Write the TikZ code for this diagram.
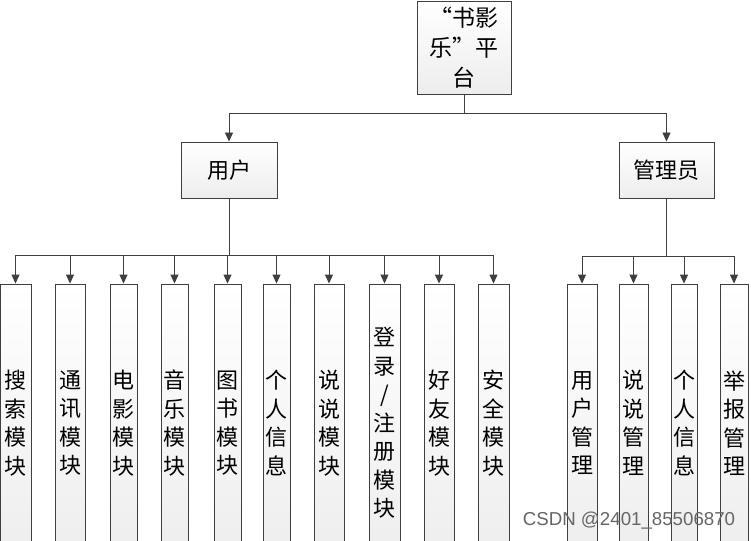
\documentclass[tikz,border=0pt]{standalone}
\usepackage{fontspec}
\setmainfont{Liberation Sans}
\newfontfamily\cjk{Noto Sans CJK SC}
\usetikzlibrary{arrows.meta}
\definecolor{ln}{HTML}{3F3F3F}
\tikzset{
  box/.style={draw=ln, line width=0.9pt, top color=white, bottom color=gray!14,
    inner sep=0pt, align=center, font=\cjk\fontsize{22}{30}\selectfont},
  hbox/.style={box, minimum width=96pt, minimum height=56pt},
  vbox/.style={box, minimum height=278pt, font=\cjk\fontsize{22}{28.5}\selectfont},
  conn/.style={draw=ln, line width=0.9pt},
  arr/.style={conn, -{Triangle[length=9pt,width=8pt]}}
}
\begin{document}
\begin{tikzpicture}[x=1pt,y=-1pt]
\useasboundingbox (0,0) rectangle (751,540);
\clip (0,0) rectangle (751,540);
\fill[white] (0,0) rectangle (751,540);
% top
\node[box, minimum width=94pt, minimum height=93pt, font=\cjk\fontsize{23}{30}\selectfont] (top) at (464,47.5) {“书影\\乐”平\\台};
\node[hbox] (user) at (229,170) {用户};
\node[hbox, minimum width=95pt] (admin) at (666.5,170) {管理员};
\coordinate (tb) at (464,113);
\draw[conn] (top.south) -- (tb);
\draw[arr] (tb) -| (user.north);
\draw[arr] (tb) -| (admin.north);
% user children
\node[vbox, minimum width=31pt] (b1) at (15.5,423) {搜\\索\\模\\块};
\node[vbox, minimum width=30pt] (b2) at (70,423) {通\\讯\\模\\块};
\node[vbox, minimum width=27pt] (b3) at (123.5,423) {电\\影\\模\\块};
\node[vbox, minimum width=27pt] (b4) at (174.5,423) {音\\乐\\模\\块};
\node[vbox, minimum width=27pt] (b5) at (227.5,423) {图\\书\\模\\块};
\node[vbox, minimum width=27pt] (b6) at (276.5,423) {个\\人\\信\\息};
\node[vbox, minimum width=30pt] (b7) at (329,423) {说\\说\\模\\块};
\node[vbox, minimum width=31pt] (b8) at (384.5,423) {登\\录\\/\\注\\册\\模\\块};
\node[vbox, minimum width=30pt] (b9) at (439,423) {好\\友\\模\\块};
\node[vbox, minimum width=31pt] (b10) at (493.5,423) {安\\全\\模\\块};
\coordinate (ub) at (229,255);
\draw[conn] (user.south) -- (ub);
\foreach \n in {b1,b2,b3,b4,b5,b6,b7,b8,b9,b10}
  \draw[arr] (ub) -| (\n.north);
% admin children
\node[vbox, minimum width=30pt] (r1) at (582,423) {用\\户\\管\\理};
\node[vbox, minimum width=29pt] (r2) at (633.5,423) {说\\说\\管\\理};
\node[vbox, minimum width=26pt] (r3) at (684,423) {个\\人\\信\\息};
\node[vbox, minimum width=28pt] (r4) at (734,423) {举\\报\\管\\理};
\coordinate (ab) at (666.5,256);
\draw[conn] (admin.south) -- (ab);
\foreach \n in {r1,r2,r3,r4}
  \draw[arr] (ab) -| (\n.north);
% watermark
\node[text=gray!80!black, font=\fontsize{18.7}{19}\selectfont, inner sep=0pt] (wm) at (629,521) {CSDN @2401\_85506870};
\end{tikzpicture}
\end{document}
